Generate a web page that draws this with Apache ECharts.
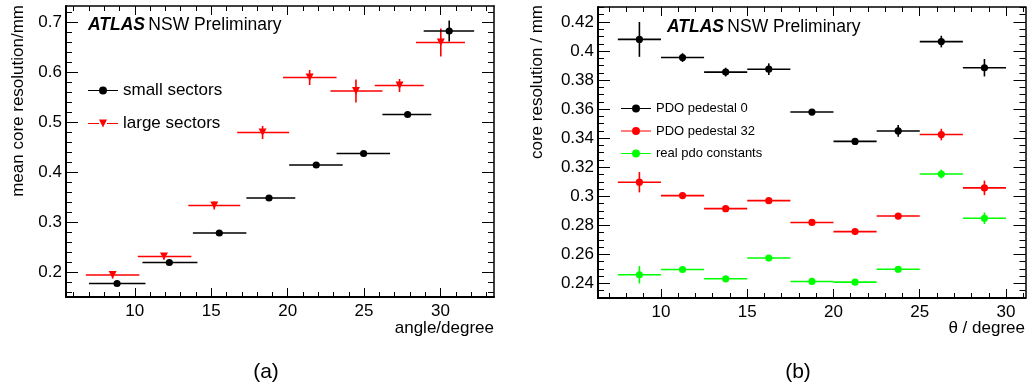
<!DOCTYPE html>
<html>
<head>
<meta charset="utf-8">
<script src="https://cdn.jsdelivr.net/npm/echarts@6/dist/echarts.min.js"></script>
<style>
html,body{margin:0;padding:0;background:#fff;}
#chart{width:1027px;height:385px;}
</style>
</head>
<body>
<div id="chart"></div>
<script>
// ---------------- Data: panel (a) ----------------
const smallX    = [8.84, 12.26, 15.53, 18.78, 21.87, 24.97, 27.85, 30.57];
const smallY    = [0.178, 0.220, 0.279, 0.349, 0.415, 0.438, 0.516, 0.683];
const smallXLo  = [7.0, 10.5, 13.8, 17.3, 20.1, 23.2, 26.2, 28.9];
const smallXHi  = [10.7, 14.1, 17.3, 20.5, 23.6, 26.7, 29.4, 32.2];
const smallYErr = [0.003, 0.003, 0.003, 0.003, 0.003, 0.003, 0.003, 0.021];

const largeX    = [8.55, 11.91, 15.2, 18.36, 21.44, 24.47, 27.32, 30.02];
const largeY    = [0.195, 0.232, 0.334, 0.480, 0.590, 0.563, 0.574, 0.660];
const largeXLo  = [6.8, 10.2, 13.5, 16.7, 19.7, 22.8, 25.7, 28.4];
const largeXHi  = [10.3, 13.7, 16.9, 20.1, 23.2, 26.2, 28.9, 31.6];
const largeYErr = [0.007, 0.006, 0.008, 0.013, 0.015, 0.023, 0.013, 0.028];

// ---------------- Data: panel (b) ----------------
const thetaCenters = [8.75, 11.25, 13.75, 16.25, 18.75, 21.25, 23.75, 26.25, 28.75];
const thetaHalfWidth = [1.25, 1.25, 1.25, 1.25, 1.25, 1.25, 1.25, 1.25, 1.25];
const ped0     = [0.408, 0.3955, 0.3855, 0.3875, 0.358, 0.3378, 0.345, 0.4065, 0.3885];
const ped0Err  = [0.012, 0.003, 0.003, 0.004, 0.002, 0.002, 0.004, 0.004, 0.006];
const ped32    = [0.3097, 0.3005, 0.2915, 0.297, 0.282, 0.2757, 0.2864, 0.3425, 0.3058];
const ped32Err = [0.007, 0.002, 0.002, 0.002, 0.002, 0.002, 0.002, 0.004, 0.005];
const realPdo  = [0.246, 0.2496, 0.2432, 0.2575, 0.2414, 0.2409, 0.2498, 0.3153, 0.2849];
const realErr  = [0.006, 0.002, 0.002, 0.002, 0.001, 0.001, 0.002, 0.003, 0.004];

// ---------------- Tick labels ----------------
const leftXTicks  = [10, 15, 20, 25, 30];
const leftYTicks  = [0.2, 0.3, 0.4, 0.5, 0.6, 0.7];
const rightXTicks = [10, 15, 20, 25, 30];
const rightYTicks = [0.24, 0.26, 0.28, 0.3, 0.32, 0.34, 0.36, 0.38, 0.4, 0.42];

const seriesNames = ['small sectors', 'large sectors', 'PDO pedestal 0', 'PDO pedestal 32', 'real pdo constants'];

// ------------------------------------------------
function range(a, b, step) {
  const out = [];
  const n = Math.round((b - a) / step);
  for (let i = 0; i <= n; i++) out.push(+(a + i * step).toFixed(4));
  return out;
}
const leftXMinor  = range(6, 33, 1);
const leftYMinor  = range(0.16, 0.72, 0.02);
const rightXMinor = range(7, 31, 1);
const rightYMinor = range(0.23, 0.43, 0.005);

const FONT = 'Liberation Sans, Arial, Helvetica, sans-serif';

function buildRows(xs, ys, xlo, xhi, yerr) {
  return xs.map((x, i) => [x, ys[i], xlo[i], xhi[i], ys[i] - yerr[i], ys[i] + yerr[i]]);
}
const smallRows = buildRows(smallX, smallY, smallXLo, smallXHi, smallYErr);
const largeRows = buildRows(largeX, largeY, largeXLo, largeXHi, largeYErr);
function binRows(vals, errs) {
  return thetaCenters.map((c, i) => [c, vals[i], c - thetaHalfWidth[i], c + thetaHalfWidth[i], vals[i] - errs[i], vals[i] + errs[i]]);
}
const ped0Rows = binRows(ped0, ped0Err);
const ped32Rows = binRows(ped32, ped32Err);
const realRows = binRows(realPdo, realErr);

function makeRender(color, shape, r) {
  return function (params, api) {
    const x = api.value(0), y = api.value(1);
    const p  = api.coord([x, y]);
    const pl = api.coord([api.value(2), y]);
    const pr = api.coord([api.value(3), y]);
    const pb = api.coord([x, api.value(4)]);
    const pt = api.coord([x, api.value(5)]);
    const lineStyle = { stroke: color, lineWidth: 1.6 };
    let marker;
    if (shape === 'tri') {
      marker = { type: 'polygon', shape: { points: [[p[0] - 4, p[1] - 4], [p[0] + 4, p[1] - 4], [p[0], p[1] + 3.5]] }, style: { fill: color } };
    } else {
      marker = { type: 'circle', shape: { cx: p[0], cy: p[1], r: r }, style: { fill: color } };
    }
    return {
      type: 'group',
      children: [
        { type: 'line', shape: { x1: pl[0], y1: pl[1], x2: pr[0], y2: pr[1] }, style: lineStyle },
        { type: 'line', shape: { x1: pb[0], y1: pb[1], x2: pt[0], y2: pt[1] }, style: lineStyle },
        marker
      ]
    };
  };
}

function xAxes(gridIndex, min, max, majors, minors, labelSize) {
  const common = { gridIndex: gridIndex, type: 'value', min: min, max: max, splitLine: { show: false } };
  return [
    Object.assign({}, common, {
      position: 'bottom',
      axisLine: { show: true, onZero: false, lineStyle: { color: '#000', width: 2 } },
      axisTick: { show: true, inside: true, length: 9, customValues: majors, lineStyle: { color: '#000', width: 1 } },
      axisLabel: { show: true, customValues: majors, color: '#000', fontSize: labelSize, fontFamily: FONT, margin: 6 }
    }),
    Object.assign({}, common, {
      position: 'bottom',
      axisLine: { show: false, onZero: false },
      axisTick: { show: true, inside: true, length: 5, customValues: minors, lineStyle: { color: '#000', width: 1 } },
      axisLabel: { show: false }
    }),
    Object.assign({}, common, {
      position: 'top',
      axisLine: { show: true, onZero: false, lineStyle: { color: '#000', width: 1.5 } },
      axisTick: { show: true, inside: true, length: 9, customValues: majors, lineStyle: { color: '#000', width: 1 } },
      axisLabel: { show: false }
    }),
    Object.assign({}, common, {
      position: 'top',
      axisLine: { show: false, onZero: false },
      axisTick: { show: true, inside: true, length: 5, customValues: minors, lineStyle: { color: '#000', width: 1 } },
      axisLabel: { show: false }
    })
  ];
}
function yAxes(gridIndex, min, max, majors, minors, labelSize, fmt) {
  const common = { gridIndex: gridIndex, type: 'value', min: min, max: max, splitLine: { show: false } };
  return [
    Object.assign({}, common, {
      position: 'left',
      axisLine: { show: true, onZero: false, lineStyle: { color: '#000', width: 2 } },
      axisTick: { show: true, inside: true, length: 12, customValues: majors, lineStyle: { color: '#000', width: 1 } },
      axisLabel: { show: true, customValues: majors, color: '#000', fontSize: labelSize, fontFamily: FONT, margin: 4, formatter: fmt }
    }),
    Object.assign({}, common, {
      position: 'left',
      axisLine: { show: false, onZero: false },
      axisTick: { show: true, inside: true, length: 6, customValues: minors, lineStyle: { color: '#000', width: 1 } },
      axisLabel: { show: false }
    }),
    Object.assign({}, common, {
      position: 'right',
      axisLine: { show: true, onZero: false, lineStyle: { color: '#000', width: 1.5 } },
      axisTick: { show: true, inside: true, length: 12, customValues: majors, lineStyle: { color: '#000', width: 1 } },
      axisLabel: { show: false }
    }),
    Object.assign({}, common, {
      position: 'right',
      axisLine: { show: false, onZero: false },
      axisTick: { show: true, inside: true, length: 6, customValues: minors, lineStyle: { color: '#000', width: 1 } },
      axisLabel: { show: false }
    })
  ];
}

const iconCircle = 'path://M0,4.4H11V5.6H0Z M19,4.4H30V5.6H19Z M11,5a4,4 0 1,1 8,0a4,4 0 1,1 -8,0Z';
const iconTri = 'path://M0,4.4H11V5.6H0Z M19,4.4H30V5.6H19Z M11,1H19L15,9Z';

const chart = echarts.init(document.getElementById('chart'), null, { renderer: 'canvas' });

const option = {
  animation: false,
  backgroundColor: '#fff',
  grid: [
    { left: 66, right: 533, top: 6, bottom: 88 },
    { left: 598, right: 1.5, top: 7, bottom: 87 }
  ],
  xAxis: [].concat(
    xAxes(0, 5.5, 33.5, leftXTicks, leftXMinor, 17),
    xAxes(1, 6.35, 31.13, rightXTicks, rightXMinor, 17)
  ),
  yAxis: [].concat(
    yAxes(0, 0.151, 0.733, leftYTicks, leftYMinor, 17, v => String(+(+v).toFixed(1))),
    yAxes(1, 0.23, 0.4303, rightYTicks, rightYMinor, 17, v => String(+(+v).toFixed(2)))
  ),
  legend: [
    {
      left: 88, top: 82, orient: 'vertical', itemWidth: 30, itemHeight: 10, itemGap: 16, padding: 0,
      selectedMode: false,
      textStyle: { fontSize: 17, fontFamily: FONT, color: '#000' },
      data: [
        { name: seriesNames[0], icon: iconCircle },
        { name: seriesNames[1], icon: iconTri }
      ]
    },
    {
      left: 621, top: 102, orient: 'vertical', itemWidth: 30, itemHeight: 10, itemGap: 9.5, padding: 0,
      selectedMode: false,
      textStyle: { fontSize: 13, fontFamily: FONT, color: '#000' },
      data: [
        { name: seriesNames[2], icon: iconCircle },
        { name: seriesNames[3], icon: iconCircle },
        { name: seriesNames[4], icon: iconCircle }
      ]
    }
  ],
  series: [
    { name: seriesNames[0], type: 'custom', xAxisIndex: 0, yAxisIndex: 0, itemStyle: { color: '#000' },
      renderItem: makeRender('#000', 'circle', 3.6), data: smallRows, encode: { x: [0, 2, 3], y: [1, 4, 5] }, z: 3 },
    { name: seriesNames[1], type: 'custom', xAxisIndex: 0, yAxisIndex: 0, itemStyle: { color: '#ff0000' },
      renderItem: makeRender('#ff0000', 'tri', 0), data: largeRows, encode: { x: [0, 2, 3], y: [1, 4, 5] }, z: 2 },
    { name: seriesNames[2], type: 'custom', xAxisIndex: 4, yAxisIndex: 4, itemStyle: { color: '#000' },
      renderItem: makeRender('#000', 'circle', 3.6), data: ped0Rows, encode: { x: [0, 2, 3], y: [1, 4, 5] } },
    { name: seriesNames[3], type: 'custom', xAxisIndex: 4, yAxisIndex: 4, itemStyle: { color: '#ff0000' },
      renderItem: makeRender('#ff0000', 'circle', 3.6), data: ped32Rows, encode: { x: [0, 2, 3], y: [1, 4, 5] } },
    { name: seriesNames[4], type: 'custom', xAxisIndex: 4, yAxisIndex: 4, itemStyle: { color: '#00ff00' },
      renderItem: makeRender('#00ff00', 'circle', 3.6), data: realRows, encode: { x: [0, 2, 3], y: [1, 4, 5] } }
  ],
  graphic: [
    { type: 'text', left: 88, top: 16, style: {
        text: '{a|ATLAS} {b|NSW Preliminary}',
        rich: {
          a: { fontSize: 17.5, fontWeight: 'bold', fontStyle: 'italic', fontFamily: FONT, fill: '#000' },
          b: { fontSize: 17.5, fontFamily: FONT, fill: '#000' }
        } } },
    { type: 'text', left: 667, top: 18, style: {
        text: '{a|ATLAS} {b|NSW Preliminary}',
        rich: {
          a: { fontSize: 17.5, fontWeight: 'bold', fontStyle: 'italic', fontFamily: FONT, fill: '#000' },
          b: { fontSize: 17.5, fontFamily: FONT, fill: '#000' }
        } } },
    { type: 'text', x: 18, y: 5, rotation: Math.PI / 2, style: {
        text: 'mean core resolution/mm', fontSize: 17, fontFamily: FONT, fill: '#000',
        align: 'right', verticalAlign: 'middle' } },
    { type: 'text', x: 537, y: 5, rotation: Math.PI / 2, style: {
        text: 'core resolution / mm', fontSize: 17, fontFamily: FONT, fill: '#000',
        align: 'right', verticalAlign: 'middle' } },
    { type: 'text', x: 494, y: 328, style: {
        text: 'angle/degree', fontSize: 17, fontFamily: FONT, fill: '#000',
        align: 'right', verticalAlign: 'middle' } },
    { type: 'text', x: 1025, y: 328, style: {
        text: 'θ / degree', fontSize: 17, fontFamily: FONT, fill: '#000',
        align: 'right', verticalAlign: 'middle' } },
    { type: 'text', x: 266, y: 372, style: {
        text: '(a)', fontSize: 21, fontFamily: FONT, fill: '#000',
        align: 'center', verticalAlign: 'middle' } },
    { type: 'text', x: 798, y: 372, style: {
        text: '(b)', fontSize: 21, fontFamily: FONT, fill: '#000',
        align: 'center', verticalAlign: 'middle' } }
  ]
};
chart.setOption(option);
</script>
</body>
</html>
